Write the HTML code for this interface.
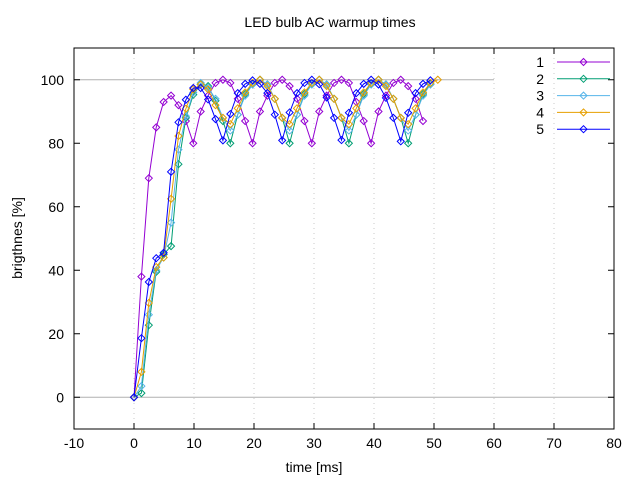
<!DOCTYPE html>
<html><head><meta charset="utf-8"><style>
body{margin:0;background:#fff}
svg{display:block;font-family:"Liberation Sans",sans-serif}
</style></head><body>
<svg id="chart" width="640" height="480">
<rect width="640" height="480" fill="#fff"/>
<text x="330" y="27" font-size="14" text-anchor="middle">LED bulb AC warmup times</text>
<text x="314" y="472" font-size="14" text-anchor="middle">time [ms]</text>
<text transform="translate(22,238) rotate(-90)" font-size="14" text-anchor="middle">brigthnes [%]</text>
<g id="grid"></g>
<g id="axes"></g>
<g id="series"></g>
<g id="legend"></g>
</svg>
<script>
const xTicks=[-10,0,10,20,30,40,50,60,70,80];
const yTicks=[0,20,40,60,80,100];
const seriesNames=["1","2","3","4","5"];
const seriesColors=["#9400d3","#009e73","#56b4e9","#e69f00","#0000ff"];
const sampleStep=1.235;
const s1=[0,38,69,85,93,95,92,87,80,90,95,99,100,99,94,87,80,90,95,99,100,98,94,87,80,90,95,99,100,99,93,87,80,90,95,99,100,98,94,87];
const s2=[0,1.3,22.7,39.5,45,47.6,73.4,88,95.3,98.6,98,93.4,87,80,89,95.5,98.6,100,98.5,94,88,80,89,95.5,98.6,100,98.5,94,88,80,89,95.5,98.6,100,98.5,94,88,80,89,95.5,98.6];
const s3=[0,3.5,26,40,44,55,78,88.5,96,99,97.5,94,88,84,89,95,98.5,100,98.5,94,88,84,89,95,98.5,100,98.5,94,88,84,89,95,98.5,100,98.5,94,88,84,89,95,98.5];
const s4=[0,8,29.7,41,44,62.5,82.3,90.9,97,98.5,97,92,88,86,91,96,99,100,98,94,88,86,91,96,99,100,98,94,88,86,91,96,99,100,98,94,88,86,91,96,99,100];
const s5=[0,18.6,36.3,43.8,45.5,71,86.6,93.7,97.4,97.4,93.8,87.6,80.9,89.2,95.8,98.7,99.8,98.7,95.8,89,80.9,89.7,95.8,99,100,98.6,94.4,88,81,89.6,95.8,98.7,100,98.5,94.3,88,80.6,89.6,95.8,98.7,99.8];
const allSeries=[s1,s2,s3,s4,s5];
const NS="http://www.w3.org/2000/svg";
const X0=74,X1=614,Y0=429,Y1=48,xMin=-10,xMax=80,yMin=-10,yMax=110;
function sx(v){return X0+(v-xMin)/(xMax-xMin)*(X1-X0);}
function sy(v){return Y0-(v-yMin)/(yMax-yMin)*(Y0-Y1);}
function mk(tag,attrs,parent){const e=document.createElementNS(NS,tag);for(const k in attrs)e.setAttribute(k,attrs[k]);parent.appendChild(e);return e;}
const grid=document.getElementById('grid'),axes=document.getElementById('axes'),ser=document.getElementById('series'),leg=document.getElementById('legend');
xTicks.forEach(t=>{if(t>xMin&&t<xMax){const l=mk('line',{x1:sx(t),x2:sx(t),y1:Y1,y2:Y0,stroke:'#c8c8c8','stroke-dasharray':'1,4'},grid);

}});
const h0=mk('line',{x1:X0,x2:X1,y1:sy(0),y2:sy(0),stroke:'#b0b0b0'},grid);


const h100=mk('line',{x1:X0,x2:sx(60),y1:sy(100),y2:sy(100),stroke:'#b0b0b0'},grid);


const fr=mk('rect',{x:X0,y:Y1,width:X1-X0,height:Y0-Y1,fill:'none',stroke:'#000','stroke-width':1},axes);


xTicks.forEach(t=>{const x=sx(t);
mk('line',{x1:x,x2:x,y1:Y0,y2:Y0-6,stroke:'#000'},axes);mk('line',{x1:x,x2:x,y1:Y1,y2:Y1+6,stroke:'#000'},axes);
const tx=mk('text',{x:x,y:Y0+19,'font-size':14,'text-anchor':'middle'},axes);tx.textContent=t;

});
yTicks.forEach(t=>{const y=sy(t);
mk('line',{x1:X0,x2:X0+6,y1:y,y2:y,stroke:'#000'},axes);mk('line',{x1:X1,x2:X1-6,y1:y,y2:y,stroke:'#000'},axes);
const tx=mk('text',{x:X0-10,y:y+5,'font-size':14,'text-anchor':'end'},axes);tx.textContent=t;

});
function diamond(x,y,c,p){return mk('path',{d:`M${x-3.5},${y}L${x},${y-3.5}L${x+3.5},${y}L${x},${y+3.5}Z`,fill:'none',stroke:c,'stroke-width':1},p);}
allSeries.forEach((vals,si)=>{const c=seriesColors[si];
const g=mk('g',{},ser);


const pts=vals.map((v,i)=>sx(i*sampleStep).toFixed(1)+','+sy(v).toFixed(1)).join(' ');
const pl=mk('polyline',{points:pts,fill:'none',stroke:c,'stroke-width':1},g);


vals.forEach((v,i)=>{const d=diamond(sx(i*sampleStep),sy(v),c,g);

});
const ly=62+si*16.8;
const lg=mk('g',{},leg);


const lt=mk('text',{x:544,y:ly+5,'font-size':14,'text-anchor':'end'},lg);lt.textContent=seriesNames[si];
mk('line',{x1:557,x2:610,y1:ly,y2:ly,stroke:c},lg);
diamond(583.5,ly,c,lg);});
</script>
</body></html>
